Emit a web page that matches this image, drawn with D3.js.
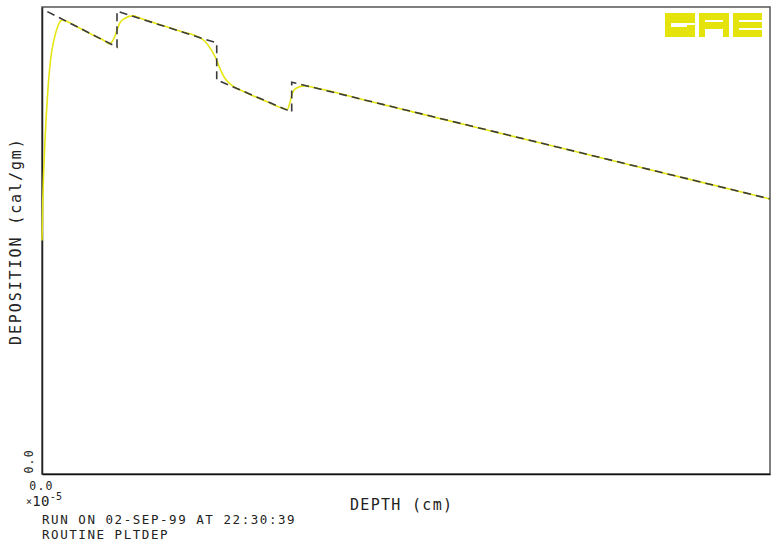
<!DOCTYPE html>
<html>
<head>
<meta charset="utf-8">
<script src="https://cdn.jsdelivr.net/npm/d3@7"></script>
<style>
  body { margin: 0; background: #fff; }
  text { font-family: "DejaVu Sans Mono", "Liberation Mono", monospace; fill: #222; }
</style>
</head>
<body>
<div class="chart-box"></div>
<script>
// depth in units of 1e-5 cm, deposition normalised (axis only shows 0.0)
const stepDepth = [0, 1.03, 1.03, 2.40, 2.40, 3.43, 3.43, 10];
const stepDep   = [0.996, 0.914, 0.991, 0.923, 0.844, 0.775, 0.839, 0.589];

const smoothDepth = [0, 0.01, 0.04, 0.08, 0.12, 0.165, 0.22, 0.275, 0.5, 0.7, 0.865, 0.92, 0.98, 1.03, 1.07, 1.14, 1.25, 1.35,
  1.6, 1.9, 2.17, 2.24, 2.31, 2.38, 2.445, 2.51, 2.58, 2.8, 3.05, 3.31, 3.37, 3.41, 3.44, 3.49, 3.61, 3.75,
  4.5, 6, 8, 10];
const smoothDep   = [0.50, 0.58, 0.71, 0.82, 0.89, 0.93, 0.96, 0.972, 0.956, 0.940, 0.927, 0.921, 0.930, 0.950, 0.966, 0.976, 0.981, 0.976,
  0.963, 0.948, 0.934, 0.926, 0.912, 0.893, 0.868, 0.848, 0.836, 0.817, 0.800, 0.783, 0.781, 0.798, 0.816, 0.826, 0.831, 0.827,
  0.798, 0.741, 0.665, 0.589];

const xTicks = [0];
const yTicks = [0];

const W = 772, H = 544;
const margin = {top: 7, right: 2, bottom: 70, left: 42};

const svg = d3.select(".chart-box").append("svg")
  .attr("width", W)
  .attr("height", H);

const x = d3.scaleLinear().domain([0, 10]).range([margin.left, W - margin.right]);
const y = d3.scaleLinear().domain([0, 1]).range([H - margin.bottom, margin.top]);

// frame
svg.append("rect")
  .attr("x", x(0)).attr("y", y(1))
  .attr("width", x(10) - x(0)).attr("height", y(0) - y(1))
  .attr("fill", "none")
  .attr("stroke", "#555")
  .attr("stroke-width", 1.5);

const xAxis = svg.append("g")
  .attr("transform", "translate(0," + y(0) + ")")
  .call(d3.axisBottom(x).tickValues(xTicks).tickFormat(d3.format(".1f")).tickSize(0).tickPadding(8));
xAxis.select(".domain").attr("stroke", "#111").attr("stroke-width", 1.5);
xAxis.selectAll("text")
  .attr("font-size", 11.5).attr("letter-spacing", 1.2)
  .attr("dx", -1);

const yAxis = svg.append("g")
  .attr("transform", "translate(" + x(0) + ",0)")
  .call(d3.axisLeft(y).tickValues(yTicks).tickFormat(d3.format(".1f")).tickSize(0).tickPadding(0));
yAxis.select(".domain").attr("stroke", "#222").attr("stroke-width", 1.5);
yAxis.selectAll("text")
  .attr("font-size", 11.5).attr("letter-spacing", 1.2)
  .attr("text-anchor", "start")
  .attr("transform", "translate(-9,0) rotate(-90)")
  .attr("x", 1).attr("y", 0).attr("dy", 0);
svg.selectAll(".tick text").style("font-family", "DejaVu Sans Mono").attr("fill", "#222");

// curves
const smooth = smoothDepth.map((d, i) => [d, smoothDep[i]]);
const steps = stepDepth.map((d, i) => [d, stepDep[i]]);

svg.append("path")
  .datum(smooth)
  .attr("fill", "none")
  .attr("stroke", "#e6e614")
  .attr("stroke-width", 1.6)
  .attr("d", d3.line().x(d => x(d[0])).y(d => y(d[1])).curve(d3.curveMonotoneX));

svg.append("path")
  .datum(steps)
  .attr("fill", "none")
  .attr("stroke", "#3a3a3a")
  .attr("stroke-width", 1.6)
  .attr("stroke-dasharray", "8,5")
  .attr("stroke-dashoffset", -6)
  .attr("d", d3.line().x(d => x(d[0])).y(d => y(d[1])));

// axis titles
svg.append("text")
  .attr("x", 350).attr("y", 510)
  .attr("font-size", 15).attr("letter-spacing", 1.3)
  .text("DEPTH (cm)");

svg.append("text")
  .attr("transform", "translate(21,345) rotate(-90)")
  .attr("font-size", 15).attr("letter-spacing", 1.9)
  .text("DEPOSITION (cal/gm)");

// x multiplier
const mult = svg.append("text")
  .attr("x", 26).attr("y", 506)
  .attr("font-size", 14).attr("letter-spacing", 0.3);
mult.append("tspan").attr("font-size", 10).attr("dy", -1).text("×");
mult.append("tspan").attr("dy", 1).text("10");
mult.append("tspan").attr("font-size", 10).attr("dy", -6).text("-5");

svg.append("text")
  .attr("x", 42).attr("y", 524)
  .attr("font-size", 12.5).attr("letter-spacing", 1.55)
  .text("RUN ON 02-SEP-99 AT 22:30:39");

svg.append("text")
  .attr("x", 42).attr("y", 539)
  .attr("font-size", 12.5).attr("letter-spacing", 1.55)
  .text("ROUTINE PLTDEP");

// GAE logo, block letters
const logo = svg.append("g").attr("fill", "#e4e40c");
const lx = 665, ly = 13, lh = 24;
logo.append("rect").attr("x", lx).attr("y", ly).attr("width", 30).attr("height", lh);
logo.append("rect").attr("x", lx + 34).attr("y", ly).attr("width", 30).attr("height", lh);
logo.append("rect").attr("x", lx + 68).attr("y", ly).attr("width", 29).attr("height", lh);
const gaps = svg.append("g").attr("fill", "#fff");
// G
gaps.append("rect").attr("x", lx + 6).attr("y", ly + 10).attr("width", 24).attr("height", 2);
gaps.append("rect").attr("x", lx + 6).attr("y", ly + 12).attr("width", 16).attr("height", 2);
// A
gaps.append("rect").attr("x", lx + 40).attr("y", ly + 7).attr("width", 18).attr("height", 2);
gaps.append("rect").attr("x", lx + 40).attr("y", ly + 16).attr("width", 18).attr("height", 8);
// E
gaps.append("rect").attr("x", lx + 74).attr("y", ly + 7).attr("width", 23).attr("height", 2);
gaps.append("rect").attr("x", lx + 74).attr("y", ly + 15).attr("width", 23).attr("height", 2);
</script>
</body>
</html>
